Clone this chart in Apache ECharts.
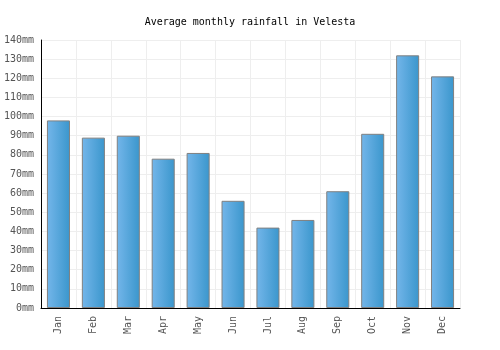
<!DOCTYPE html>
<html>
<head>
<meta charset="utf-8">
<script src="https://cdn.jsdelivr.net/npm/echarts@6/dist/echarts.min.js"></script>
<style>
  html, body { margin: 0; padding: 0; background: #fff; }
  #chart { width: 500px; height: 350px; }
</style>
</head>
<body>
<div id="chart"></div>
<script>
const months = ['Jan', 'Feb', 'Mar', 'Apr', 'May', 'Jun', 'Jul', 'Aug', 'Sep', 'Oct', 'Nov', 'Dec'];
const rainfall = [98, 89, 90, 78, 81, 56, 42, 46, 61, 91, 132, 121];

const font = 'DejaVu Sans Mono';

let chart = echarts.init(document.getElementById('chart'));
let option = {
  animation: false,
  title: {
    text: 'Average monthly rainfall in Velesta',
    left: 'center',
    top: 12,
    textStyle: { fontFamily: font, fontSize: 10, fontWeight: 'normal', color: '#000' }
  },
  grid: { left: 41, right: 40, top: 40, bottom: 42 },
  xAxis: {
    type: 'category',
    data: months,
    axisLine: { lineStyle: { color: '#000', width: 1 } },
    axisTick: { show: false },
    axisLabel: { rotate: 90, color: '#555', fontFamily: font, fontSize: 10, margin: 8 },
    splitLine: { show: true, lineStyle: { color: '#eee', width: 1 } }
  },
  yAxis: {
    type: 'value',
    min: 0,
    max: 140,
    interval: 10,
    axisLine: { show: true, lineStyle: { color: '#000', width: 1 } },
    axisTick: { show: false },
    axisLabel: { formatter: '{value}mm', color: '#555', fontFamily: font, fontSize: 10, margin: 7 },
    splitLine: { lineStyle: { color: '#eee', width: 1 } }
  },
  series: [{
    type: 'bar',
    data: rainfall,
    barWidth: '66%',
    itemStyle: {
      color: new echarts.graphic.LinearGradient(0, 0, 1, 0, [
        { offset: 0, color: '#74b6ea' },
        { offset: 1, color: '#3a96cc' }
      ]),
      borderColor: '#808080',
      borderWidth: 1
    }
  }]
};
chart.setOption(option);
</script>
</body>
</html>
